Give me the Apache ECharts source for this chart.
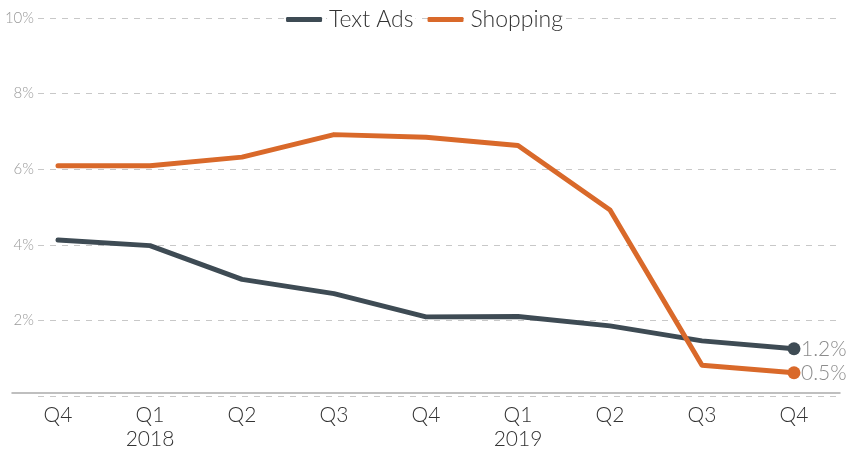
<!DOCTYPE html>
<html><head><meta charset="utf-8">
<script src="https://cdn.jsdelivr.net/npm/echarts@6/dist/echarts.min.js"></script>
<style>html,body{margin:0;padding:0;background:#fff}#c{width:851px;height:451px}</style>
</head><body><div id="c"></div>
<script>
const categories = ["Q4", "Q1\n2018", "Q2", "Q3", "Q4", "Q1\n2019", "Q2", "Q3", "Q4"];
const textAds = [4.08, 3.93, 3.03, 2.65, 2.03, 2.04, 1.79, 1.39, 1.18];
const shopping = [6.06, 6.06, 6.29, 6.89, 6.82, 6.6, 4.88, 0.74, 0.54];
const yTicks = { min: 0, max: 10, interval: 2 };

const chart = echarts.init(document.getElementById('c'));
const font = 'Lato, "Open Sans", sans-serif';
const lastIdx = categories.length - 1;
function mkSeries(name, data, color) {
  return {
    name, type: 'line', data, xAxisIndex: 0, yAxisIndex: 0,
    lineStyle: { width: 5, color, cap: 'round', join: 'round' },
    itemStyle: { color },
    symbol: 'circle', showSymbol: true,
    symbolSize: (v, p) => p.dataIndex === lastIdx ? 13 : 0,
    emphasis: { disabled: true },
    endLabel: {
      show: true, distance: 7, color: '#8c8c8c', fontSize: 21, fontFamily: font, fontWeight: 300,
      formatter: p => p.value.toFixed(1) + '%'
    }
  };
}
chart.setOption({
  animation: false,
  legend: {
    top: 3, left: 'center', itemWidth: 36, itemHeight: 5, itemGap: 12,
    icon: 'roundRect',
    textStyle: { fontSize: 23, color: '#333', fontFamily: font, fontWeight: 300, backgroundColor: '#fff', padding: [0, 2] },
    data: ['Text Ads', 'Shopping']
  },
  grid: [
    { left: 12, right: 11, top: 18, bottom: 55 },
    { left: 38, right: 11, top: 18, bottom: 55 }
  ],
  xAxis: [
    { type: 'category', gridIndex: 0, data: categories, boundaryGap: true,
      axisLine: { lineStyle: { color: '#aaa', width: 1.5 } }, axisTick: { show: false },
      axisLabel: { fontSize: 21, color: '#333', fontFamily: font, fontWeight: 300, margin: 10, lineHeight: 24 } },
    { type: 'category', gridIndex: 1, data: categories, show: false }
  ],
  yAxis: [
    { type: 'value', gridIndex: 0, min: yTicks.min, max: yTicks.max, interval: yTicks.interval,
      show: false, splitLine: { show: false } },
    { type: 'value', gridIndex: 1, min: yTicks.min, max: yTicks.max, interval: yTicks.interval,
      axisLine: { show: false }, axisTick: { show: false },
      splitLine: { lineStyle: { color: '#c8c8c8', type: [6, 6], width: 1 } },
      axisLabel: { formatter: v => v === 0 ? '' : v + '%', fontSize: 15, color: '#999', fontFamily: font, fontWeight: 300, margin: 4 } }
  ],
  series: [
    mkSeries('Text Ads', textAds, '#3e4b54'),
    mkSeries('Shopping', shopping, '#d9692a')
  ]
});
</script></body></html>
